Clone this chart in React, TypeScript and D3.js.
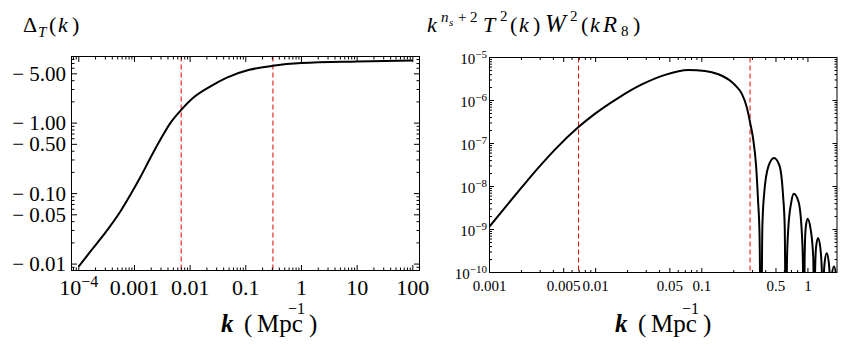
import React from "react";
import * as d3 from "d3";

// ---------- Left panel data: Delta_T(k) ----------
const leftK = [1e-4, 1.62e-4, 2.81e-4, 5.58e-4, 8.45e-4, 1.28e-3, 1.93e-3, 2.91e-3, 4.4e-3, 6.92e-3, 0.0115, 0.0228, 0.0457, 0.116, 0.305, 1, 10, 100];
const leftDelta = [0.00925, 0.0151, 0.0261, 0.0557, 0.0962, 0.172, 0.32, 0.58, 1.0, 1.545, 2.31, 3.3, 4.43, 5.7, 6.5, 7.1, 7.48, 7.73];
const leftMarkers = [0.0069, 0.307];
const leftXTicks = [1e-4, 1e-3, 1e-2, 0.1, 1, 10, 100];
const leftXTickLabels = ["10", "0.001", "0.01", "0.1", "1", "10", "100"];
const leftYTicks = [0.01, 0.05, 0.1, 0.5, 1, 5];
const leftYTickLabels = ["0.01", "0.05", "0.10", "0.50", "1.00", "5.00"];

// ---------- Right panel data: k^(ns+2) T^2(k) W^2(kR8) ----------
const rightK = [
  0.001, 0.001406, 0.002018, 0.002892, 0.004155, 0.006887, 0.009892, 0.0164, 0.02723, 0.04512, 0.07478, 0.1074, 0.1433, 0.1916, 0.2136, 0.238, 0.2652, 0.285, 0.3041, 0.3246, 0.3389, 0.3502, 0.3618,
  0.3721, 0.386, 0.4256, 0.4796, 0.5403, 0.5826, 0.6045, 0.622,
  0.6343, 0.651, 0.6978, 0.735, 0.8154, 0.8741, 0.8972, 0.9149,
  0.9309, 0.9513, 0.9913, 1.058, 1.1239, 1.1489,
  1.1664, 1.192, 1.2448, 1.3086, 1.3577, 1.3814,
  1.3964, 1.4365, 1.5031, 1.5732, 1.6218, 1.6428,
  1.6718, 1.761, 1.8474, 1.879,
];
const rightP = [
  1.17e-9, 3.29e-9, 9.64e-9, 2.74e-8, 7.32e-8, 2.41e-7, 4.95e-7, 1.156e-6, 2.36e-6, 3.95e-6, 5.1e-6, 4.88e-6, 4.08e-6, 2.7e-6, 2.07e-6, 1.449e-6, 7.05e-7, 3.1e-7, 1.315e-7, 3.09e-8, 4.72e-9, 7.21e-10, 1e-12,
  1.138e-9, 6.34e-9, 3.01e-8, 4.61e-8, 3.01e-8, 6.34e-9, 1.138e-9, 1e-12,
  1.66e-10, 9.27e-10, 4.4e-9, 6.76e-9, 4.4e-9, 9.27e-10, 1.66e-10, 1e-12,
  2.1e-10, 1.05e-9, 1.77e-9, 1.05e-9, 2.1e-10, 1e-12,
  8.41e-11, 3.79e-10, 6.37e-10, 3.79e-10, 8.41e-11, 1e-12,
  3.77e-11, 1.69e-10, 2.82e-10, 1.69e-10, 3.77e-11, 1e-12,
  7.98e-11, 1.38e-10, 7.98e-11, 1e-12,
];
const rightMarkers = [0.0069, 0.285];
const rightXTicks = [0.001, 0.005, 0.01, 0.05, 0.1, 0.5, 1];
const rightXTickLabels = ["0.001", "0.005", "0.01", "0.05", "0.1", "0.5", "1"];
const rightYTicks = [1e-5, 1e-6, 1e-7, 1e-8, 1e-9, 1e-10];
const rightYTickExps = ["5", "6", "7", "8", "9", "10"];

const SERIF = "Liberation Serif, Times New Roman, DejaVu Serif, serif";
const TS: React.CSSProperties = { fontFamily: SERIF };

function isMajor(v: number, majors: number[]) {
  return majors.some((m) => Math.abs(Math.log10(v) - Math.log10(m)) < 1e-6);
}

type Frame = { x0: number; x1: number; y0: number; y1: number };

function FrameTicks({ f, xs, ys, xMajors, yMajors, majLen, minLen }: any) {
  const els: any[] = [];
  xs.ticks().forEach((v: number, i: number) => {
    const x = xs(v);
    if (x < f.x0 + 0.5 || x > f.x1 - 0.5) return;
    const len = isMajor(v, xMajors) ? majLen : minLen;
    els.push(<line key={"xb" + i} x1={x} x2={x} y1={f.y1} y2={f.y1 - len} stroke="#000" strokeWidth={1} />);
    els.push(<line key={"xt" + i} x1={x} x2={x} y1={f.y0} y2={f.y0 + len} stroke="#000" strokeWidth={1} />);
  });
  ys.ticks().forEach((v: number, i: number) => {
    const y = ys(v);
    if (y < f.y0 + 0.5 || y > f.y1 - 0.5) return;
    const len = isMajor(v, yMajors) ? majLen : minLen;
    els.push(<line key={"yl" + i} x1={f.x0} x2={f.x0 + len} y1={y} y2={y} stroke="#000" strokeWidth={1} />);
    els.push(<line key={"yr" + i} x1={f.x1} x2={f.x1 - len} y1={y} y2={y} stroke="#000" strokeWidth={1} />);
  });
  return <g>{els}</g>;
}

export default function App() {
  const W = 866;
  const H = 345;

  // Left panel
  const L: Frame = { x0: 71.5, x1: 419.5, y0: 56.5, y1: 270.5 };
  const lx = d3.scaleLog().domain([Math.pow(10, -4.131), Math.pow(10, 2.12)]).range([L.x0, L.x1]);
  const ly = d3.scaleLog().domain([Math.pow(10, -2.091), Math.pow(10, 0.945)]).range([L.y1, L.y0]);
  const leftData: [number, number][] = leftK.map((k, i) => [k, leftDelta[i]]);
  const leftLine = d3
    .line<[number, number]>()
    .x((d) => lx(d[0]))
    .y((d) => ly(d[1]))
    .curve(d3.curveMonotoneX);

  // Right panel
  const R: Frame = { x0: 489.5, x1: 837, y0: 57.5, y1: 272.5 };
  const rx = d3.scaleLog().domain([0.001, 1.879]).range([R.x0, R.x1]);
  const ry = d3.scaleLog().domain([1e-10, 1e-5]).range([R.y1, R.y0]);
  const rightData: [number, number][] = rightK.map((k, i) => [k, rightP[i]]);
  const rightLine = d3
    .line<[number, number]>()
    .x((d) => rx(d[0]))
    .y((d) => ry(d[1]))
    .curve(d3.curveMonotoneX);

  return (
    <div style={{ position: "absolute", left: 0, top: 0 }}>
      <svg width={W} height={H} viewBox={`0 0 ${W} ${H}`} style={{ display: "block", background: "#fff" }}>
        <defs>
          <clipPath id="clipL">
            <rect x={L.x0} y={L.y0} width={L.x1 - L.x0} height={L.y1 - L.y0} />
          </clipPath>
          <clipPath id="clipR">
            <rect x={R.x0} y={R.y0} width={R.x1 - R.x0} height={R.y1 - R.y0} />
          </clipPath>
        </defs>

        {/* ---------- LEFT PANEL ---------- */}
        <text style={TS} fontSize={22} fill="#000">
          <tspan x={23} y={32}>Δ</tspan>
          <tspan x={38} y={37} fontSize={15} fontStyle="italic">T</tspan>
          <tspan x={49} y={32}>(</tspan>
          <tspan x={58} y={32} fontStyle="italic">k</tspan>
          <tspan x={72} y={32}>)</tspan>
        </text>

        {leftMarkers.map((m, i) => (
          <line key={"lm" + i} x1={lx(m)} x2={lx(m)} y1={L.y0} y2={L.y1} stroke="#e00000" strokeWidth={1} strokeDasharray="5,3" />
        ))}

        <path d={leftLine(leftData) || ""} fill="none" stroke="#000" strokeWidth={2} clipPath="url(#clipL)" strokeLinejoin="round" />

        <FrameTicks f={L} xs={lx} ys={ly} xMajors={leftXTicks} yMajors={leftYTicks} majLen={5.5} minLen={3} />
        <rect x={L.x0} y={L.y0} width={L.x1 - L.x0} height={L.y1 - L.y0} fill="none" stroke="#000" strokeWidth={1} />

        {leftYTicks.map((v, i) => (
          <text key={"lyl" + i} style={TS} x={66} y={ly(v) + 7} fontSize={21} textAnchor="end" fill="#000">
            {"\u2212 " + leftYTickLabels[i]}
          </text>
        ))}
        {leftXTicks.map((v, i) =>
          i === 0 ? (
            <text key={"lxl" + i} style={TS} x={lx(v)} y={295} fontSize={22} textAnchor="middle" fill="#000">
              10
              <tspan dy={-8} fontSize={16}>{"\u22124"}</tspan>
            </text>
          ) : (
            <text key={"lxl" + i} style={TS} x={lx(v)} y={295} fontSize={22} textAnchor="middle" fill="#000">
              {leftXTickLabels[i]}
            </text>
          )
        )}

        <text style={TS} fontSize={25} fill="#000">
          <tspan x={221} y={332} fontStyle="italic" fontWeight="bold">k</tspan>
          <tspan x={244} y={332}>(</tspan>
          <tspan x={257} y={332}>Mpc</tspan>
          <tspan x={288} y={314} fontSize={16}>{"\u22121"}</tspan>
          <tspan x={309} y={332}>)</tspan>
        </text>

        {/* ---------- RIGHT PANEL ---------- */}
        <text style={TS} fontSize={22} fill="#000">
          <tspan x={427} y={32} fontStyle="italic">k</tspan>
          <tspan x={441} y={22} fontSize={15} fontStyle="italic">n</tspan>
          <tspan x={449} y={26} fontSize={11} fontStyle="italic">s</tspan>
          <tspan x={458} y={22} fontSize={15}>+</tspan>
          <tspan x={470} y={22} fontSize={15}>2</tspan>
          <tspan x={483} y={32} fontStyle="italic">T</tspan>
          <tspan x={500} y={21} fontSize={15}>2</tspan>
          <tspan x={510} y={32}>(</tspan>
          <tspan x={519} y={32} fontStyle="italic">k</tspan>
          <tspan x={533} y={32}>)</tspan>
          <tspan x={545} y={32} fontSize={25} fontStyle="italic">W</tspan>
          <tspan x={570} y={21} fontSize={15}>2</tspan>
          <tspan x={581} y={32}>(</tspan>
          <tspan x={590} y={32} fontStyle="italic">k</tspan>
          <tspan x={603} y={32} fontSize={23} fontStyle="italic">R</tspan>
          <tspan x={621} y={36} fontSize={15}>8</tspan>
          <tspan x={633} y={32}>)</tspan>
        </text>

        {rightMarkers.map((m, i) => (
          <line key={"rm" + i} x1={rx(m)} x2={rx(m)} y1={R.y0} y2={R.y1} stroke="#e00000" strokeWidth={1} strokeDasharray="5,3" />
        ))}

        <path d={rightLine(rightData) || ""} fill="none" stroke="#000" strokeWidth={2} clipPath="url(#clipR)" strokeLinejoin="round" />

        <FrameTicks f={R} xs={rx} ys={ry} xMajors={rightXTicks} yMajors={rightYTicks} majLen={4.5} minLen={2.5} />
        <rect x={R.x0} y={R.y0} width={R.x1 - R.x0} height={R.y1 - R.y0} fill="none" stroke="#000" strokeWidth={1} />

        {rightYTicks.map((v, i) => (
          <text key={"ryl" + i} style={TS} x={487} y={ry(v) + 6} fontSize={15} textAnchor="end" fill="#000">
            10
            <tspan dy={-6} fontSize={11}>{"\u2212" + rightYTickExps[i]}</tspan>
          </text>
        ))}
        {rightXTicks.map((v, i) => (
          <text key={"rxl" + i} style={TS} x={rx(v)} y={291} fontSize={15} textAnchor="middle" fill="#000">
            {rightXTickLabels[i]}
          </text>
        ))}

        <text style={TS} fontSize={25} fill="#000">
          <tspan x={615} y={332} fontStyle="italic" fontWeight="bold">k</tspan>
          <tspan x={638} y={332}>(</tspan>
          <tspan x={651} y={332}>Mpc</tspan>
          <tspan x={682} y={314} fontSize={16}>{"\u22121"}</tspan>
          <tspan x={703} y={332}>)</tspan>
        </text>
      </svg>
    </div>
  );
}
